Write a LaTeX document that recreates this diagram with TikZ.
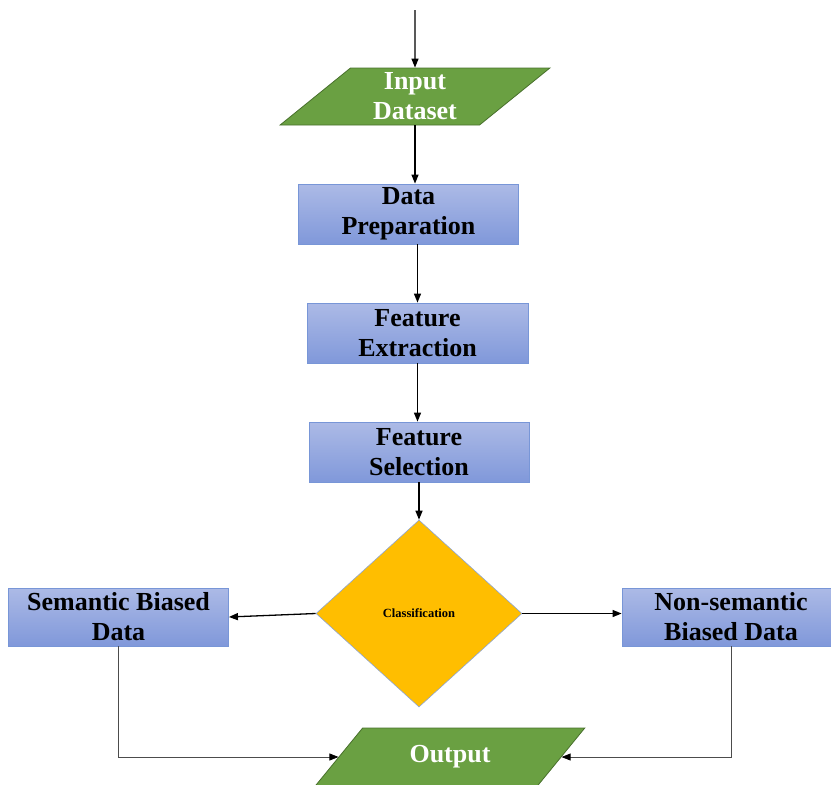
\documentclass[tikz,border=0pt]{standalone}
\usepackage{fontspec}
\setmainfont{Liberation Serif}
\usetikzlibrary{arrows.meta,shapes.geometric}
\definecolor{gfill}{RGB}{106,160,66}
\definecolor{gline}{RGB}{72,112,44}
\definecolor{btop}{RGB}{172,186,230}
\definecolor{bbot}{RGB}{128,152,218}
\definecolor{bline}{RGB}{120,150,215}
\definecolor{dfill}{RGB}{255,190,0}
\definecolor{dline}{RGB}{140,165,215}
\begin{document}
\begin{tikzpicture}[x=1pt,y=-1pt,
  txt/.style={font=\fontsize{26}{30}\selectfont\bfseries,align=center},
  procbox/.style={txt,rectangle,draw=bline,line width=0.8pt,top color=btop,bottom color=bbot,inner sep=0pt,text=black},
  iobox/.style={txt,trapezium,trapezium left angle=46,trapezium right angle=134,trapezium stretches=true,
    fill=gfill,draw=gline,line width=0.8pt,text=white,inner sep=0pt,minimum width=270pt,minimum height=57pt},
  decbox/.style={diamond,fill=dfill,draw=dline,line width=0.6pt,inner sep=0pt,minimum width=206pt,minimum height=187pt,
    font=\fontsize{12.5}{14}\selectfont\bfseries},
  mainarrow/.style={line width=1.3pt,black,-{Triangle[length=9pt,width=7pt]}},
  thinarrow/.style={line width=0.7pt,black!70,-{Triangle[length=9pt,width=7pt,color=black]}}
]
\useasboundingbox (0,0) rectangle (831,785);
\coordinate (start) at (415,10);
\node[iobox] (inp) at (415,96.5) {Input\\Dataset};
\node[procbox,minimum width=220pt,minimum height=60pt] (dp) at (408.5,214) {Data\\Preparation};
\node[procbox,minimum width=221pt,minimum height=60pt] (fe) at (417.5,333) {Feature\\Extraction};
\node[procbox,minimum width=220pt,minimum height=60pt] (fs) at (419,452) {Feature\\Selection};
\node[decbox] (cls) at (419,613.5) {Classification};
\node[procbox,minimum width=220pt,minimum height=58pt] (sem) at (118.5,617) {Semantic Biased\\Data};
\node[procbox,minimum width=218pt,minimum height=58pt] (non) at (731,617) {Non-semantic\\Biased Data};
\node[iobox,minimum height=58pt] (out) at (450,757) {Output};
\coordinate (lb) at (sem.south |- out.west);
\coordinate (rb) at (non.south |- out.east);
\draw[mainarrow] (start) -- (inp.north);
\draw[mainarrow] (inp.south) -- (inp.south |- dp.north);
\draw[mainarrow] (fe.north |- dp.south) -- (fe.north);
\draw[mainarrow] (fe.south) -- (fe.south |- fs.north);
\draw[mainarrow] (fs.south) -- (cls.north);
\draw[mainarrow] (cls.west) -- (sem.east);
\draw[mainarrow] (cls.east) -- (cls.east -| non.west);
\draw[thinarrow] (sem.south) -- (lb) -- (out.west);
\draw[thinarrow] (non.south) -- (rb) -- (out.east);
\end{tikzpicture}
\end{document}
